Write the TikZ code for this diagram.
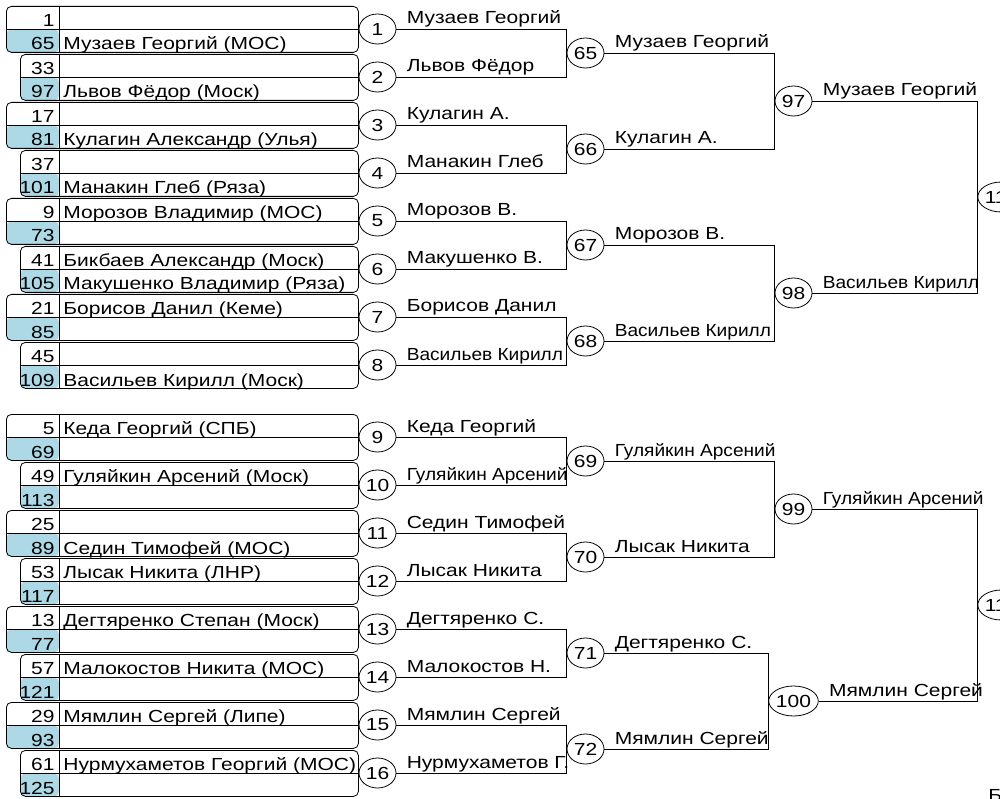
\documentclass[tikz,border=0pt]{standalone}
\usepackage{fontspec}
\setmainfont{Liberation Sans}[FakeStretch=1.2]
\usepackage{graphicx}
\usetikzlibrary{shapes.geometric}
\definecolor{seedblue}{RGB}{173,216,230}
\newcommand{\narrow}[1]{\scalebox{0.91}[1]{#1}}
% one match of the first round: name, left x, top y, upper seed, upper name, lower seed, lower name
\newcommand{\matchbox}[7]{%
  \node[matchframe, minimum width=358-#2, anchor=north west] (#1) at (#2,#3) {};
  \draw (#1.west) -- (#1.east);
  \draw (#1.north -| seedcol) -- (#1.south -| seedcol);
  \node[seed] (#1sa) at (55,#3+20.5) {#4};
  \node[entrant] (#1na) at (63,#3+20.5) {#5};
  \node[seed] (#1sb) at (55,#3+44) {#6};
  \node[entrant] (#1nb) at (63,#3+44) {#7};
}

\begin{document}
\begin{tikzpicture}[x=1pt,y=-1pt,line width=0.8pt,
  font=\fontsize{17.5}{19}\selectfont,
  matchframe/.style={draw,rounded corners=5pt,minimum height=46,inner sep=0pt,
    path picture={\fill[seedblue] (path picture bounding box.south west) rectangle (path picture bounding box.west -| seedcol);}},
  seed/.style={anchor=base east,inner sep=0pt},
  entrant/.style={anchor=base west,inner sep=0pt},
  game/.style={draw,ellipse,minimum width=37,minimum height=30,inner sep=0pt},
  winner/.style={anchor=base west,inner sep=0pt}]
\useasboundingbox (0,0) rectangle (1000,799);
\coordinate (seedcol) at (59,0);
%the boxes of the first round
\matchbox{m1}{6}{6}{1}{}{65}{Музаев Георгий (МОС)}
\matchbox{m2}{20}{54}{33}{}{97}{Львов Фёдор (Моск)}
\matchbox{m3}{6}{102}{17}{}{81}{Кулагин Александр (Улья)}
\matchbox{m4}{20}{150}{37}{}{101}{Манакин Глеб (Ряза)}
\matchbox{m5}{6}{198}{9}{Морозов Владимир (МОС)}{73}{}
\matchbox{m6}{20}{246}{41}{Бикбаев Александр (Моск)}{105}{Макушенко Владимир (Ряза)}
\matchbox{m7}{6}{294}{21}{Борисов Данил (Кеме)}{85}{}
\matchbox{m8}{20}{342}{45}{}{109}{Васильев Кирилл (Моск)}
\matchbox{m9}{6}{414}{5}{Кеда Георгий (СПБ)}{69}{}
\matchbox{m10}{20}{462}{49}{Гуляйкин Арсений (Моск)}{113}{}
\matchbox{m11}{6}{510}{25}{}{89}{Седин Тимофей (МОС)}
\matchbox{m12}{20}{558}{53}{Лысак Никита (ЛНР)}{117}{}
\matchbox{m13}{6}{606}{13}{Дегтяренко Степан (Моск)}{77}{}
\matchbox{m14}{20}{654}{57}{Малокостов Никита (МОС)}{121}{}
\matchbox{m15}{6}{702}{29}{Мямлин Сергей (Липе)}{93}{}
\matchbox{m16}{20}{750}{61}{Нурмухаметов Георгий (МОС)}{125}{}

%the game numbers
\node[game] (c1) at (377.5,29) {1};
\node[game] (c2) at (377.5,77) {2};
\node[game] (c3) at (377.5,125) {3};
\node[game] (c4) at (377.5,173) {4};
\node[game] (c5) at (377.5,221) {5};
\node[game] (c6) at (377.5,269) {6};
\node[game] (c7) at (377.5,317) {7};
\node[game] (c8) at (377.5,365) {8};
\node[game] (c9) at (377.5,437) {9};
\node[game] (c10) at (377.5,485) {10};
\node[game] (c11) at (377.5,533) {11};
\node[game] (c12) at (377.5,581) {12};
\node[game] (c13) at (377.5,629) {13};
\node[game] (c14) at (377.5,677) {14};
\node[game] (c15) at (377.5,725) {15};
\node[game] (c16) at (377.5,773) {16};
\node[game] (c65) at (585.5,53) {65};
\node[game] (c66) at (585.5,149) {66};
\node[game] (c67) at (585.5,245) {67};
\node[game] (c68) at (585.5,341) {68};
\node[game] (c69) at (585.5,461) {69};
\node[game] (c70) at (585.5,557) {70};
\node[game] (c71) at (585.5,653) {71};
\node[game] (c72) at (585.5,749) {72};
\node[game] (c97) at (793.5,101) {97};
\node[game] (c98) at (793.5,293) {98};
\node[game] (c99) at (793.5,509) {99};
\node[game] (c100) at (793.5,701) {100};
\node[game] (c113) at (1001.5,197) {113};
\node[game] (c114) at (1001.5,605) {114};

%the winners above the lines
\node[winner] (w1) at ([xshift=10pt,yshift=5pt]c1.east) {Музаев Георгий};
\node[winner] (w2) at ([xshift=10pt,yshift=5pt]c2.east) {Львов Фёдор};
\node[winner] (w3) at ([xshift=10pt,yshift=5pt]c3.east) {Кулагин А.};
\node[winner] (w4) at ([xshift=10pt,yshift=5pt]c4.east) {Манакин Глеб};
\node[winner] (w5) at ([xshift=10pt,yshift=5pt]c5.east) {Морозов В.};
\node[winner] (w6) at ([xshift=10pt,yshift=5pt]c6.east) {Макушенко В.};
\node[winner] (w7) at ([xshift=10pt,yshift=5pt]c7.east) {Борисов Данил};
\node[winner] (w8) at ([xshift=10pt,yshift=5pt]c8.east) {\narrow{Васильев Кирилл}};
\node[winner] (w9) at ([xshift=10pt,yshift=5pt]c9.east) {Кеда Георгий};
\node[winner] (w10) at ([xshift=10pt,yshift=5pt]c10.east) {\narrow{Гуляйкин Арсений}};
\node[winner] (w11) at ([xshift=10pt,yshift=5pt]c11.east) {Седин Тимофей};
\node[winner] (w12) at ([xshift=10pt,yshift=5pt]c12.east) {Лысак Никита};
\node[winner] (w13) at ([xshift=10pt,yshift=5pt]c13.east) {Дегтяренко С.};
\node[winner] (w14) at ([xshift=10pt,yshift=5pt]c14.east) {Малокостов Н.};
\node[winner] (w15) at ([xshift=10pt,yshift=5pt]c15.east) {Мямлин Сергей};
\node[winner] (w16) at ([xshift=10pt,yshift=5pt]c16.east) {Нурмухаметов Г.};
\node[winner] (w65) at ([xshift=10pt,yshift=5pt]c65.east) {Музаев Георгий};
\node[winner] (w66) at ([xshift=10pt,yshift=5pt]c66.east) {Кулагин А.};
\node[winner] (w67) at ([xshift=10pt,yshift=5pt]c67.east) {Морозов В.};
\node[winner] (w68) at ([xshift=10pt,yshift=5pt]c68.east) {\narrow{Васильев Кирилл}};
\node[winner] (w69) at ([xshift=10pt,yshift=5pt]c69.east) {\narrow{Гуляйкин Арсений}};
\node[winner] (w70) at ([xshift=10pt,yshift=5pt]c70.east) {Лысак Никита};
\node[winner] (w71) at ([xshift=10pt,yshift=5pt]c71.east) {Дегтяренко С.};
\node[winner] (w72) at ([xshift=10pt,yshift=5pt]c72.east) {Мямлин Сергей};
\node[winner] (w97) at ([xshift=10pt,yshift=5pt]c97.east) {Музаев Георгий};
\node[winner] (w98) at ([xshift=10pt,yshift=5pt]c98.east) {\narrow{Васильев Кирилл}};
\node[winner] (w99) at ([xshift=10pt,yshift=5pt]c99.east) {\narrow{Гуляйкин Арсений}};
\node[winner] (w100) at ([xshift=10pt,yshift=5pt]c100.east) {Мямлин Сергей};
\node[winner] (note) at (988,801) {Б};

%drawings of lines between the games
\draw (c1.east) -| (c65.west) |- (c2.east);
\draw (c3.east) -| (c66.west) |- (c4.east);
\draw (c5.east) -| (c67.west) |- (c6.east);
\draw (c7.east) -| (c68.west) |- (c8.east);
\draw (c9.east) -| (c69.west) |- (c10.east);
\draw (c11.east) -| (c70.west) |- (c12.east);
\draw (c13.east) -| (c71.west) |- (c14.east);
\draw (c15.east) -| (c72.west) |- (c16.east);

\draw (c65.east) -| (c97.west) |- (c66.east);
\draw (c67.east) -| (c98.west) |- (c68.east);
\draw (c69.east) -| (c99.west) |- (c70.east);
\draw (c71.east) -| (c100.west) |- (c72.east);

\draw (c97.east) -| (c113.west) |- (c98.east);
\draw (c99.east) -| (c114.west) |- (c100.east);
\end{tikzpicture}
\end{document}
